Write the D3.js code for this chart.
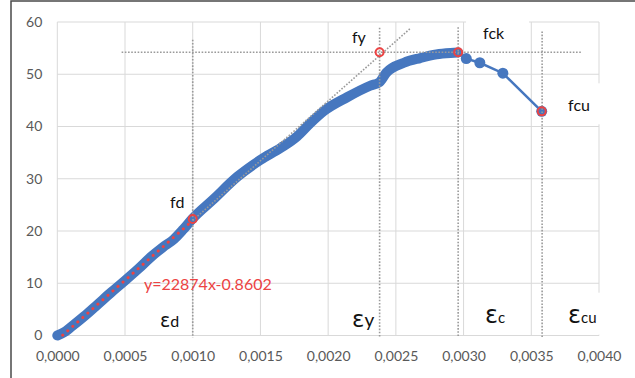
<!DOCTYPE html>
<html>
<head>
<meta charset="utf-8">
<script src="https://cdn.jsdelivr.net/npm/d3@7"></script>
<style>
  html, body { margin: 0; padding: 0; background: #fff; }
  svg { display: block; font-family: Lato, "Liberation Sans", sans-serif; }
</style>
</head>
<body>
<svg id="chart" width="635" height="378"></svg>
<script>
// stress-strain curve (strain, stress in MPa)
const strain = [0, 0.00005, 0.0001, 0.0002, 0.0003, 0.0004, 0.00049, 0.0006, 0.00069, 0.00078,
  0.00086, 0.00093, 0.0010, 0.00115, 0.00133, 0.0015, 0.00165, 0.00177, 0.00187, 0.00197,
  0.00214, 0.00231, 0.00238, 0.00243, 0.00256, 0.00268, 0.0028, 0.00293, 0.00296];
const stress = [0, 0.6, 1.6, 3.7, 6.0, 8.3, 10.3, 12.8, 15.0, 16.9,
  18.4, 20.3, 22.4, 26.0, 30.4, 33.6, 35.9, 38.1, 40.7, 43.0,
  45.6, 47.8, 48.5, 50.3, 52.2, 53.1, 53.8, 54.1, 54.15];

// softening branch after the peak (separate markers)
const tailStrain = [0.00296, 0.00302, 0.00312, 0.00329, 0.003577];
const tailStress = [54.15, 53.0, 52.2, 50.2, 42.9];

// characteristic points (red rings)
const keyNames = ["fd", "fy", "fck", "fcu"];
const keyStrain = [0.001, 0.00238, 0.00296, 0.003577];
const keyStress = [22.3, 54.2, 54.2, 42.9];

// trendline y=22874x-0.8602 : fitted part (red) and its extension (grey)
const trendFit = [[0.00004, 0.05], [0.001, 22.01]];
const trendExt = [[0.001, 22.01], [0.002605, 58.73]];

// guide lines
const vGuideStrain = [0.001, 0.00238, 0.00296, 0.00358];
const vGuideTop = [56.6, 58.9, 59.0, 58.2];
const hGuideStress = 54.2;
const hGuideFrom = 0.000475, hGuideTo = 0.00387;

const xTicks = [0, 0.0005, 0.001, 0.0015, 0.002, 0.0025, 0.003, 0.0035, 0.004];
const yTicks = [0, 10, 20, 30, 40, 50, 60];

// annotation labels, anchored at data coordinates
const labels = [
  {text: "fd",  sx: 0.000833, sy: 24.4, box: false},
  {text: "fy",  sx: 0.002176, sy: 56.0, box: false},
  {text: "fck", sx: 0.003144, sy: 56.8, box: true},
  {text: "fcu", sx: 0.003772, sy: 42.9, box: true}
];
const epsLabels = [
  {sub: "d",  sx: 0.000758, sy: 1.65, eps: 19, size: 16, box: false},
  {sub: "y",  sx: 0.002176, sy: 1.65, eps: 23, size: 19, box: false},
  {sub: "c",  sx: 0.003158, sy: 2.45, eps: 24, size: 15, box: true},
  {sub: "cu", sx: 0.003772, sy: 2.45, eps: 24, size: 15, box: true}
];
const equation = "y=22874x-0.8602";

const svg = d3.select("#chart");
const x = d3.scaleLinear().domain([0, 0.004]).range([57.3, 599]);
const y = d3.scaleLinear().domain([0, 60]).range([335.5, 22]);

const blue = "#4677bf";
const red = "#ec4343";

// frame of the screenshot (top and left edges only)
svg.append("path")
  .attr("d", "M11,378V1H635")
  .attr("fill", "none")
  .attr("stroke", "#4a4a4a")
  .attr("stroke-width", 1.5);

// gridlines
const grid = svg.append("g");
grid.selectAll(".vg").data(xTicks).join("line")
  .attr("x1", d => x(d)).attr("x2", d => x(d))
  .attr("y1", y(0)).attr("y2", y(60))
  .attr("stroke", "#d9d9d9").attr("stroke-width", 1);
grid.selectAll(".hg").data(yTicks).join("line")
  .attr("x1", x(0)).attr("x2", x(0.004))
  .attr("y1", d => y(d)).attr("y2", d => y(d))
  .attr("stroke", "#d9d9d9").attr("stroke-width", 1);

// axis labels
const loc = d3.formatLocale({decimal: ",", thousands: ".", grouping: [3], currency: ["", ""]});
const xAxis = svg.append("g")
  .attr("transform", `translate(0,${y(0)})`)
  .call(d3.axisBottom(x).tickValues(xTicks).tickFormat(loc.format(".4f")).tickSize(0).tickPadding(16));
const yAxis = svg.append("g")
  .attr("transform", `translate(${x(0)},0)`)
  .call(d3.axisLeft(y).tickValues(yTicks).tickSize(0).tickPadding(15));
[xAxis, yAxis].forEach(a => {
  a.select(".domain").remove();
  a.selectAll("text").attr("fill", "#595959").style("font-size", "14px").style("font-family", "Lato, sans-serif");
});

// layer for white label boxes (drawn before curves)
const boxLayer = svg.append("g");

// main dense curve (thick band of overlapping markers)
const line = d3.line().x(d => x(d[0])).y(d => y(d[1]));
const dense = strain.map((s, i) => [s, stress[i]]);
const tail = tailStrain.map((s, i) => [s, tailStress[i]]);

svg.append("path")
  .datum(dense)
  .attr("d", line.curve(d3.curveMonotoneX))
  .attr("fill", "none")
  .attr("stroke", blue)
  .attr("stroke-width", 10)
  .attr("stroke-linecap", "round")
  .attr("stroke-linejoin", "round");

svg.append("path")
  .datum(tail)
  .attr("d", d3.line().x(d => x(d[0])).y(d => y(d[1])))
  .attr("fill", "none")
  .attr("stroke", blue)
  .attr("stroke-width", 2.5);

svg.selectAll(".tailpt").data(tail.slice(1)).join("circle")
  .attr("cx", d => x(d[0])).attr("cy", d => y(d[1]))
  .attr("r", 5.5)
  .attr("fill", blue);

// grey dotted guides
const guides = svg.append("g")
  .attr("stroke", "#9a9a9a")
  .attr("stroke-width", 1.6)
  .attr("stroke-dasharray", "1.6,1.6")
  .attr("fill", "none");
guides.selectAll(".vl").data(vGuideStrain).join("line")
  .attr("x1", d => x(d)).attr("x2", d => x(d))
  .attr("y1", (d, i) => y(vGuideTop[i])).attr("y2", y(-0.4));
guides.append("line")
  .attr("x1", x(hGuideFrom)).attr("x2", x(hGuideTo))
  .attr("y1", y(hGuideStress)).attr("y2", y(hGuideStress));
guides.append("path")
  .datum(trendExt)
  .attr("d", d3.line().x(d => x(d[0])).y(d => y(d[1])));

// red dotted fitted trendline
svg.append("path")
  .datum(trendFit)
  .attr("d", d3.line().x(d => x(d[0])).y(d => y(d[1])))
  .attr("fill", "none")
  .attr("stroke", red)
  .attr("stroke-width", 3)
  .attr("stroke-linecap", "round")
  .attr("stroke-dasharray", "0.1,6.6");

// characteristic points
svg.selectAll(".key").data(keyNames).join("circle")
  .attr("cx", (d, i) => x(keyStrain[i]))
  .attr("cy", (d, i) => y(keyStress[i]))
  .attr("r", 4)
  .attr("fill", "none")
  .attr("stroke", red)
  .attr("stroke-width", 2);

// annotation texts
const addBox = (node, padL, padR, padT, padB) => {
  const b = node.getBBox();
  boxLayer.append("rect")
    .attr("x", b.x - padL).attr("y", b.y - padT)
    .attr("width", b.width + padL + padR).attr("height", b.height + padT + padB)
    .attr("fill", "#fff");
};

labels.forEach(l => {
  const t = svg.append("text")
    .attr("x", x(l.sx)).attr("y", y(l.sy))
    .attr("fill", "#111")
    .style("font-size", "16px")
    .text(l.text);
  if (l.box) addBox(t.node(), 17, 24, 12, 10);
});

epsLabels.forEach(l => {
  const t = svg.append("text")
    .attr("x", x(l.sx)).attr("y", y(l.sy))
    .attr("fill", "#111");
  t.append("tspan")
    .style("font-family", "'DejaVu Sans', sans-serif")
    .style("font-size", l.eps + "px")
    .text("ε");
  t.append("tspan")
    .style("font-size", l.size + "px")
    .text(l.sub);
  if (l.box) addBox(t.node(), 19, 10, 8, 6);
});

svg.append("text")
  .attr("x", x(0.00064)).attr("y", y(8.75))
  .attr("fill", red)
  .style("font-size", "16px")
  .text(equation);
</script>
</body>
</html>
